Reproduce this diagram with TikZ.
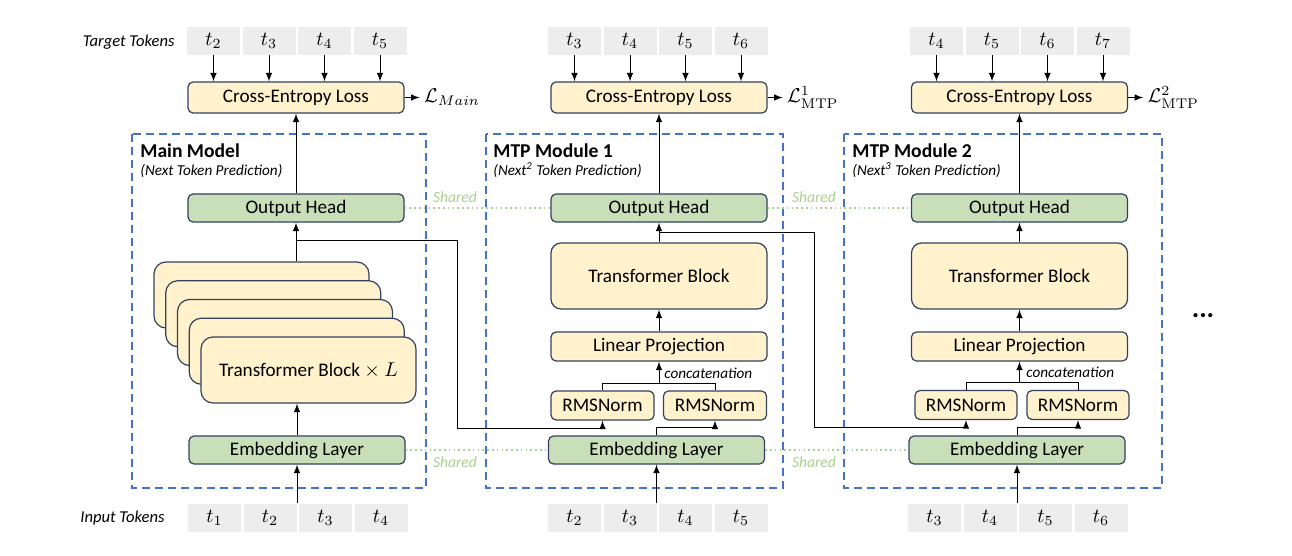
\documentclass[tikz,border=0pt]{standalone}
\usepackage[no-math]{fontspec}
\setmainfont{Carlito}
\usepackage{amsmath}
\usepackage{tikz}

\definecolor{yel}{HTML}{FFF2CC}
\definecolor{grn}{HTML}{C9DFB9}
\definecolor{boxline}{HTML}{33405F}
\definecolor{frm}{HTML}{4472C4}
\definecolor{shr}{HTML}{A9D18E}
\definecolor{tokgray}{HTML}{EDEDED}

\begin{document}
\begin{tikzpicture}[x=0.5pt, y=-0.5pt,
                    font=\fontsize{9.6}{11}\selectfont,
                    unit/.style={draw=boxline, line width=0.6pt, rounded corners=2.5pt,
                                 minimum width=108pt, minimum height=14pt, inner sep=0},
                    yelbox/.style={unit, fill=yel},
                    grnbox/.style={unit, fill=grn},
                    tok/.style={fill=tokgray, minimum width=26.5pt, minimum height=14pt, inner sep=0},
                    modframe/.style={draw=frm, line width=1pt, dash pattern=on 4pt off 2.5pt},
                    shared/.style={draw=shr, line width=0.8pt, dash pattern=on 0.8pt off 1.6pt},
                    sharedtext/.style={text=shr, font=\fontsize{7.8}{9}\selectfont\itshape},
                    note/.style={inner sep=1pt, font=\fontsize{7.6}{9}\selectfont\itshape},
                    title/.style={inner sep=1pt, anchor=west, font=\fontsize{9.8}{11}\selectfont\bfseries},
                    arr/.style={-latex, line width=0.5pt}]
                \useasboundingbox (0,0) rectangle (1292,556);

                % losses
                \node[yelbox, minimum height=15.5pt] (loss0) at (296,97.5) {Cross-Entropy Loss};
                \node[yelbox, minimum height=15.5pt] (loss1) at (659,97.5) {Cross-Entropy Loss};
                \node[yelbox, minimum height=15.5pt] (loss2) at (1019.5,97.5) {Cross-Entropy Loss};
                \draw[arr] (loss0.east) -- ++(15,0) node[right, inner sep=2pt] (L0) {$\mathcal{L}_{Main}$};
                \draw[arr] (loss1.east) -- ++(15,0) node[right, inner sep=2pt] (L1) {$\mathcal{L}^{1}_{\mathrm{MTP}}$};
                \draw[arr] (loss2.east) -- ++(15,0) node[right, inner sep=2pt] (L2) {$\mathcal{L}^{2}_{\mathrm{MTP}}$};

                % main model
                \draw[modframe] (132,134) rectangle (426,488);
                \node[title] (t0) at (138,151) {Main Model};
                \node[note, anchor=west] (s0) at (138,171) {(Next Token Prediction)};
                \node[grnbox] (head0) at (296,208) {Output Head};
                \foreach \k in {0,...,3}
                    \node[yelbox, minimum width=107.5pt, minimum height=33pt, rounded corners=6pt]
                        (blk\k) at (261.5+11.75*\k, 295+18.75*\k) {};
                \node[yelbox, minimum width=107.5pt, minimum height=33pt, rounded corners=6pt]
                    (blk4) at (308.5,370) {Transformer Block $\times$ $L$};
                \node[grnbox] (emb0) at (297,450) {Embedding Layer};

                % MTP module 1
                \draw[modframe] (486,134) rectangle (783,488);
                \node[title] (t1) at (491,151) {MTP Module 1};
                \node[note, anchor=west] (s1) at (491,170) {(Next\textsuperscript{2} Token Prediction)};
                \node[grnbox] (head1) at (659,208) {Output Head};
                \node[yelbox, minimum height=33pt, rounded corners=5pt] (tf1) at (659,276) {Transformer Block};
                \node[yelbox, minimum height=14.5pt] (proj1) at (659,346.5) {Linear Projection};
                \node[yelbox, minimum width=51.5pt, minimum height=14.5pt] (rms1a) at (602.5,405.5) {RMSNorm};
                \node[yelbox, minimum width=51.5pt, minimum height=14.5pt] (rms1b) at (715,405.5) {RMSNorm};
                \node[grnbox] (emb1) at (656.5,450) {Embedding Layer};

                % MTP module 2
                \draw[modframe] (844,134) rectangle (1162,488);
                \node[title] (t2) at (850,151) {MTP Module 2};
                \node[note, anchor=west] (s2) at (850,170) {(Next\textsuperscript{3} Token Prediction)};
                \node[grnbox] (head2) at (1019.5,208) {Output Head};
                \node[yelbox, minimum height=33pt, rounded corners=5pt] (tf2) at (1019.5,276) {Transformer Block};
                \node[yelbox, minimum height=14.5pt] (proj2) at (1019.5,346.5) {Linear Projection};
                \node[yelbox, minimum width=51pt, minimum height=14.5pt] (rms2a) at (966,405) {RMSNorm};
                \node[yelbox, minimum width=51pt, minimum height=14.5pt] (rms2b) at (1078,405) {RMSNorm};
                \node[grnbox] (emb2) at (1017,450) {Embedding Layer};

                \node[font=\fontsize{14}{14}\selectfont\bfseries] (more) at (1203,316) {...};

                % tokens
                \node[inner sep=1pt, anchor=east, font=\fontsize{8.3}{10}\selectfont\itshape] (tgl) at (177,42) {Target Tokens};
                \node[inner sep=1pt, anchor=east, font=\fontsize{8.3}{10}\selectfont\itshape] (inl) at (167,518) {Input Tokens};
                \foreach \x/\f/\n in {187/2/tg0, 548/3/tg1, 910/4/tg2}
                    \foreach \k in {0,...,3}{
                        \pgfmathtruncatemacro\tn{\f+\k}
                        \node[tok] (\n\k) at (\x+26.5+55.5*\k,41) {$t_{\tn}$};
                    }
                \foreach \x/\f/\n in {188/1/in0, 548/2/in1, 908/3/in2}
                    \foreach \k in {0,...,3}{
                        \pgfmathtruncatemacro\tn{\f+\k}
                        \node[tok] (\n\k) at (\x+26.5+55.5*\k,517.5) {$t_{\tn}$};
                    }
                \foreach \n/\m in {tg0/loss0, tg1/loss1, tg2/loss2}
                    \foreach \k in {0,...,3}
                        \draw[arr] (\n\k) -- (\n\k |- \m.north);

                % shared
                \draw[shared] (head0) -- (head1);
                \draw[shared] (head1) -- (head2);
                \draw[shared] (emb0) -- (emb1);
                \draw[shared] (emb1) -- (emb2);
                \node[sharedtext] (sh0) at (455,197) {Shared};
                \node[sharedtext] (sh1) at (814,197) {Shared};
                \node[sharedtext] (sh2) at (455,462) {Shared};
                \node[sharedtext] (sh3) at (814,462) {Shared};

                % main flow
                \draw[arr] (head0) -- (loss0);
                \draw[arr] (head0.south |- blk0.north) -- (head0.south);
                \draw[arr] (emb0.north) -- (emb0.north |- blk4.south);
                \draw[arr] (emb0.south |- in01.north) -- (emb0.south);
                \path (head0.south) ++(0,18) coordinate (br0);
                \draw[arr] (br0) -- ++(161,0) -- ++(0,188) -| (rms1a.south);

                % module 1 flow
                \draw[arr] (head1) -- (loss1);
                \draw[arr] (tf1) -- (head1);
                \draw[arr] (proj1) -- (tf1);
                \path (rms1a.north) ++(0,-7) coordinate (cat1);
                \draw[line width=0.5pt] (rms1a.north) -- (cat1) -| (rms1b.north);
                \draw[arr] (cat1 -| proj1.south) -- (proj1.south);
                \node[note, anchor=west] (cc1) at (662,373) {concatenation};
                \draw[arr] (emb1.north) -- ++(0,-8) -| (rms1b.south);
                \draw[arr] (emb1.south |- in11.north) -- (emb1.south);
                \path (tf1.north) ++(0,-10) coordinate (br1);
                \draw[arr] (br1) -- ++(155,0) -- ++(0,195) -| (rms2a.south);

                % module 2 flow
                \draw[arr] (head2) -- (loss2);
                \draw[arr] (tf2) -- (head2);
                \draw[arr] (proj2) -- (tf2);
                \path (rms2a.north) ++(0,-7) coordinate (cat2);
                \draw[line width=0.5pt] (rms2a.north) -- (cat2) -| (rms2b.north);
                \draw[arr] (cat2 -| proj2.south) -- (proj2.south);
                \node[note, anchor=west] (cc2) at (1024,372) {concatenation};
                \draw[arr] (emb2.north) -- ++(0,-8) -| (rms2b.south);
                \draw[arr] (emb2.south |- in21.north) -- (emb2.south);
            \end{tikzpicture}
\end{document}
